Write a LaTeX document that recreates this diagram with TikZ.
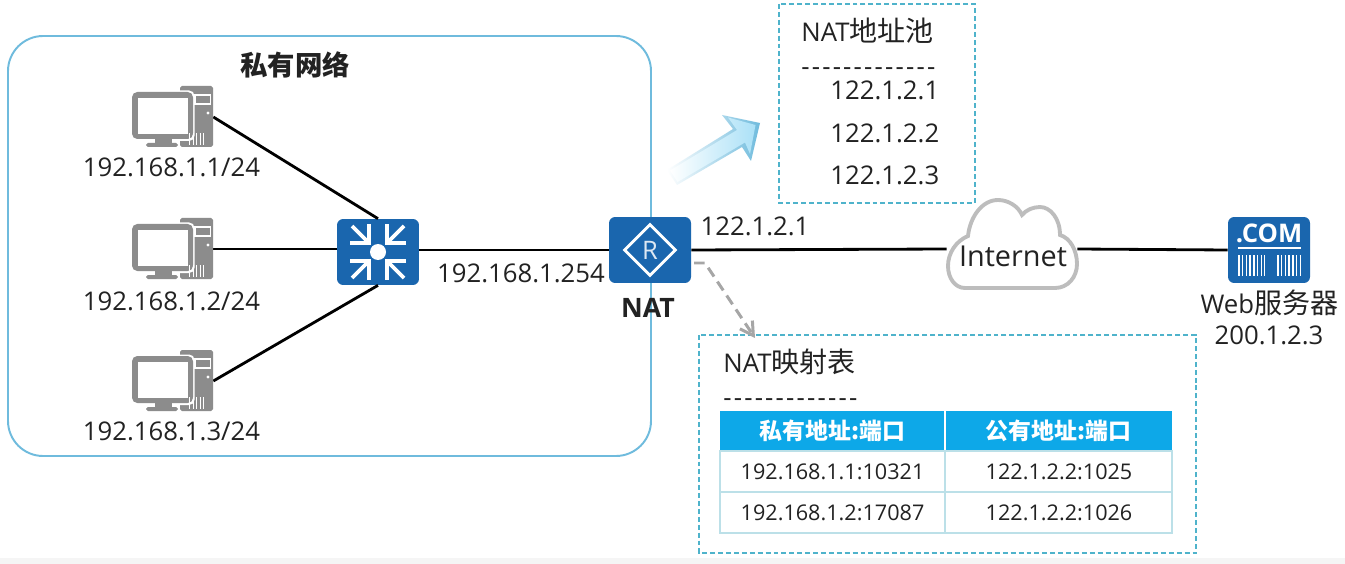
\documentclass[tikz,border=0pt]{standalone}
\usepackage{fontspec}
\setmainfont{Open Sans}
\newfontfamily\cjk[Scale=1.09]{Noto Sans CJK SC}
\newfontfamily\hyphenfont[LetterSpace=8.5]{Open Sans}
\usetikzlibrary{arrows.meta,shapes.geometric}
\definecolor{netblue}{HTML}{1A66AE}
\definecolor{boxline}{HTML}{6FBBDD}
\definecolor{dashline}{HTML}{4FB3CB}
\definecolor{pcgray}{HTML}{8C8C8C}
\definecolor{cloudgray}{HTML}{BDBDBD}
\definecolor{headblue}{HTML}{0DA8E8}
\definecolor{rowline}{HTML}{BCE0E8}
\definecolor{txtdark}{HTML}{222222}
\tikzset{
  addr/.style={font=\fontsize{14.65}{17}\selectfont,text=txtdark,inner sep=0pt},
  cell/.style={font=\fontsize{12.3}{15}\selectfont,text=txtdark,inner sep=0pt},
  headcell/.style={font=\fontsize{11.95}{16}\selectfont\cjk\bfseries,text=white,inner sep=0pt},
  dashbox/.style={draw=dashline,line width=0.8pt,dash pattern=on 2.8pt off 1.7pt},
  wire/.style={black,line width=1.6pt},
  iconbox/.style={fill=netblue,rounded corners=3.5pt,minimum width=1.64cm,minimum height=1.32cm,inner sep=0pt},
  hostbox/.style={minimum width=1.64cm,minimum height=1.22cm,inner sep=0pt},
  inarrow/.style={white,line width=2.2pt},
  pics/pchost/.style={code={
    \fill[pcgray,rounded corners=1pt] (8,-31) rectangle (41,30);
    \fill[white,rounded corners=3pt] (-42,-26.5) rectangle (22.5,24);
    \fill[pcgray,rounded corners=3pt] (-40,-25) rectangle (21,22);
    \fill[white] (-34,-19) rectangle (15.5,17);
    \fill[pcgray] (-17,22) rectangle (0,26);
    \fill[pcgray,rounded corners=1pt] (-26,26) rectangle (6,30);
    \draw[white,line width=0.6pt] (23,-22) rectangle (38.5,-13);
    \fill[white] (36,-4) circle (1.7);
    \draw[white,line width=7pt,dash pattern=on 0.8pt off 1.2pt] (17,22) -- (33,22);
  }}
}
\begin{document}
\begin{tikzpicture}[x=0.02cm,y=-0.02cm]
% ---------------- page ----------------
\useasboundingbox (0,0) rectangle (1345,564);
\fill[white] (0,0) rectangle (1345,564);
\fill[black!4] (0,558) rectangle (1345,564);

% ---------------- private network ----------------
\draw[boxline,line width=1.1pt,rounded corners=20pt] (8,36) rectangle (651,456);
\node[font=\fontsize{14.3}{18}\selectfont\cjk\bfseries,text=txtdark,inner sep=0pt] (privname) at (295,65) {私有网络};

% ---------------- devices ----------------
\node[hostbox] (pc1) at (172,117) {};
\node[hostbox] (pc2) at (172,249) {};
\node[hostbox] (pc3) at (172,381) {};
\node[iconbox] (sw) at (378,252) {};
\node[iconbox] (nat) at (650,250) {};
\node[iconbox] (web) at (1269,250) {};
\node[minimum width=2.6cm,minimum height=1.7cm,inner sep=0pt] (inet) at (1012,249) {};

% ---------------- links ----------------
\draw[wire] (pc1.east) -- (sw.north);
\draw[wire] (pc2.east) -- (sw.west |- pc2.east);
\draw[wire] (pc3.east) -- (sw.south);
\draw[wire] (sw.east |- nat.west) -- (nat.west);
\draw[wire] (nat.east) -- (inet.west);
\draw[wire] (inet.east) -- (web.west);

% ---------------- hosts ----------------
\pic at (pc1) {pchost};
\pic at (pc2) {pchost};
\pic at (pc3) {pchost};
\node[addr] (ip1) at (171.5,167) {192.168.1.1/24};
\node[addr] (ip2) at (171.5,301) {192.168.1.2/24};
\node[addr] (ip3) at (171.5,431) {192.168.1.3/24};

% ---------------- switch glyph ----------------
\begin{scope}[shift={(378,252)}]
 \fill[white] (0,0) circle (8);
 \draw[inarrow] (-28,-9) -- (-9,-9) -- (-9,-28);
 \draw[inarrow] (-26,-26) -- (-10,-10);
 \draw[inarrow] (28,-9) -- (9,-9) -- (9,-28);
 \draw[inarrow] (26,-26) -- (10,-10);
 \draw[inarrow] (-28,9) -- (-9,9) -- (-9,28);
 \draw[inarrow] (-26,26) -- (-10,10);
 \draw[inarrow] (28,9) -- (9,9) -- (9,28);
 \draw[inarrow] (26,26) -- (10,10);
\end{scope}

% ---------------- router glyph ----------------
\node[diamond,draw=white,line width=1.7pt,minimum size=1.04cm,inner sep=0pt,text=white!85!netblue,font=\fontsize{14.5}{15}\selectfont] (routerR) at (nat) {R};
\node[font=\fontsize{15.2}{17}\selectfont\bfseries,text=txtdark,inner sep=0pt] (natname) at (648,308) {NAT};
\node[addr] (lanip) at (521,273) {192.168.1.254};
\node[addr] (wanip) at (755,226) {122.1.2.1};

% ---------------- cloud ----------------
\draw[cloudgray,fill=white,line width=2.2pt] (965,288) -- (1055,288)
  .. controls (1068,288) and (1077,277) .. (1077,264)
  .. controls (1077,250) and (1070,238) .. (1060,235)
  .. controls (1060,218) and (1050,207) .. (1040,207)
  .. controls (1033,207) and (1026,210) .. (1022,215)
  .. controls (1018,206) and (1008,200) .. (998,200)
  .. controls (982,200) and (970,217) .. (968,236)
  .. controls (956,241) and (948,253) .. (948,266)
  .. controls (948,278) and (955,288) .. (965,288) -- cycle;
\node[font=\fontsize{16.4}{19}\selectfont,text=txtdark,inner sep=0pt] (inetname) at (1013,256) {Internet};

% ---------------- web server ----------------
\node[font=\fontsize{14.6}{16}\selectfont\bfseries,text=white,inner sep=0pt] (comname) at (1269,233) {.COM};
\draw[white,line width=0.8pt] (1238,248) -- (1301,248);
\draw[white,line width=12pt,dash pattern=on 0.9pt off 1.25pt] (1238,265.5) -- (1265,265.5);
\draw[white,line width=12pt,dash pattern=on 0.9pt off 1.25pt] (1277,265.5) -- (1302,265.5);
\node[addr] (webname) at (1269.5,303) {Web{\cjk 服务器}};
\node[addr] (webip) at (1269,335) {200.1.2.3};

% ---------------- NAT pool ----------------
\draw[dashbox] (779,4) rectangle (975,203);
\node[addr,anchor=west] (poolname) at (801,31) {NAT{\cjk 地址池}};
\node[addr,anchor=west] (poolrule) at (801,72) {\hyphenfont -------------};
\node[addr,anchor=west] (pool1) at (830,90) {122.1.2.1};
\node[addr,anchor=west] (pool2) at (830,133) {122.1.2.2};
\node[addr,anchor=west] (pool3) at (830,175) {122.1.2.3};

% ---------------- big arrow to the pool ----------------
\shade[left color=white,middle color=boxline!20,right color=boxline] (760,123) -- (722,115) -- (733,129) -- (667,170) -- (677,185) -- (742,147) -- (751,161) -- cycle;
\shade[left color=white,middle color=headblue!8,right color=headblue!35] (755.5,125) -- (728,117.5) -- (737,130) -- (670,170.5) -- (677.5,182) -- (745,142.5) -- (750,154) -- cycle;

% ---------------- NAT table ----------------
\draw[dashbox] (699,335) rectangle (1196,553);
\node[addr,anchor=west] (mapname) at (723,362) {NAT{\cjk 映射表}};
\node[addr,anchor=west] (maprule) at (723,403) {\hyphenfont -------------};
\fill[headblue] (720,411) rectangle (1172,451);
\draw[white,line width=0.6pt] (945,411) -- (945,451);
\draw[rowline,line width=0.8pt] (720,451) rectangle (1172,533);
\draw[rowline,line width=0.8pt] (720,492) -- (1172,492);
\draw[rowline,line width=0.8pt] (945,451) -- (945,533);
\node[headcell] (headpriv) at (832.5,431) {私有地址:端口};
\node[headcell] (headpub) at (1058.5,431) {公有地址:端口};
\node[cell] (row1priv) at (832.5,472) {192.168.1.1:10321};
\node[cell] (row1pub) at (1059,472) {122.1.2.2:1025};
\node[cell] (row2priv) at (832.5,513) {192.168.1.2:17087};
\node[cell] (row2pub) at (1059,513) {122.1.2.2:1026};

% ---------------- dashed arrow to the table ----------------
\coordinate (natout) at (694,263);
\coordinate (natbend) at (705,263);
\coordinate (mapin) at (755,338);
\draw[-{Straight Barb[length=2.6mm,width=3mm]},black!35,line width=1.7pt,dash pattern=on 6pt off 3.5pt] (natout) -- (natbend) -- (mapin);
\end{tikzpicture}
\end{document}
